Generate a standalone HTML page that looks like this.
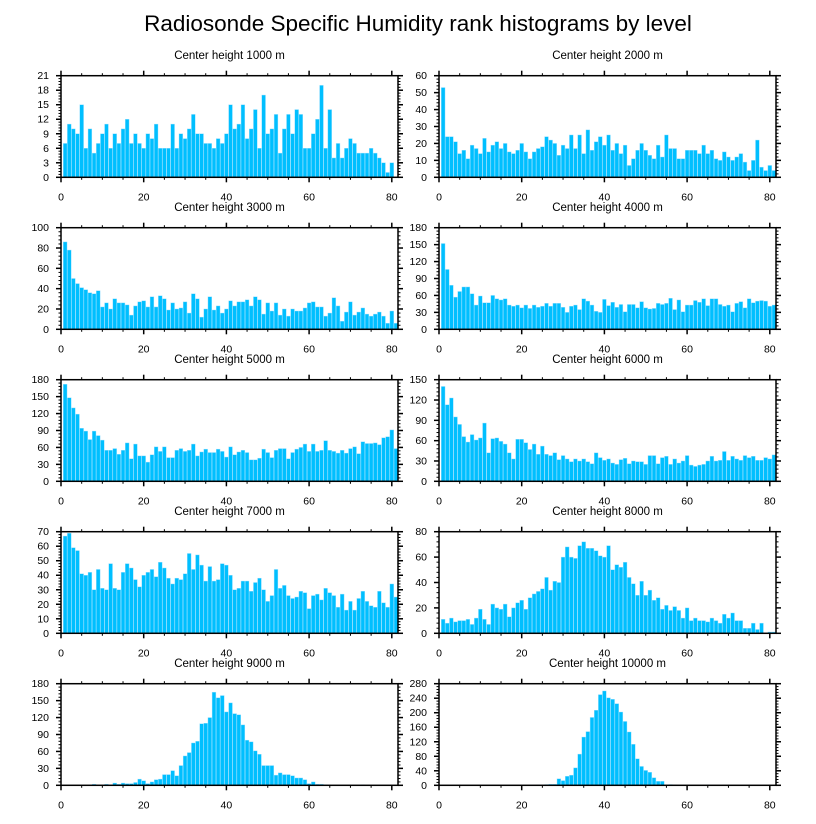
<!DOCTYPE html>
<html><head><meta charset="utf-8"><style>
html,body{margin:0;padding:0;background:#fff;}
svg{display:block;font-family:"Liberation Sans",sans-serif;}
</style></head><body>
<svg id="chart" width="816" height="824" viewBox="0 0 816 824">
<text x="418" y="31" text-anchor="middle" font-size="22.5">Radiosonde Specific Humidity rank histograms by level</text>
</svg>
<script>
const levels = ["1000","2000","3000","4000","5000","6000","7000","8000","9000","10000"];
const yMaxes = [21,60,100,180,180,150,70,80,180,280];
const ySteps = [3,10,20,30,30,30,10,20,30,40];
const xTicks = [0,20,40,60,80];
const h1000 = [7,11,10,9,15,6,10,5,7,9,11,6,9,7,10,12,7,9,7,6,9,8,11,6,6,6,11,6,9,8,10,13,9,9,7,7,6,8,7,9,15,10,11,15,8,10,14,6,17,9,10,13,5,10,13,9,14,13,6,6,9,12,19,6,14,4,7,4,6,8,7,5,5,5,6,5,4,3,1,3,0];
const h2000 = [53,24,24,21,14,16,11,19,17,14,23,15,19,21,17,20,15,14,16,20,15,11,15,17,18,24,22,20,13,19,17,25,17,25,14,28,16,21,24,19,25,16,20,14,19,7,11,16,20,16,13,11,19,12,25,17,17,11,11,16,16,16,14,19,14,16,11,10,15,12,10,12,14,9,4,10,22,6,4,7,4];
const h3000 = [86,78,50,45,41,39,36,35,38,22,26,20,30,26,26,24,14,23,27,28,22,32,22,33,30,19,26,20,21,27,16,35,30,12,20,32,19,23,16,20,28,23,27,27,29,23,32,29,15,26,18,26,14,20,13,20,18,18,21,26,27,22,22,13,16,31,23,8,17,27,14,17,21,15,13,15,17,13,6,18,6];
const h4000 = [152,106,78,57,67,75,75,63,43,59,47,47,60,54,52,54,43,41,43,38,43,37,43,39,41,46,41,46,46,39,30,41,43,35,54,50,43,32,30,53,42,48,39,44,31,44,44,38,49,38,36,37,46,44,46,55,35,52,31,43,43,51,48,54,42,54,54,44,41,43,31,46,49,38,54,47,50,51,50,41,43];
const h5000 = [172,148,130,119,94,89,74,89,81,73,55,55,58,48,55,68,40,66,45,45,34,47,61,53,61,42,42,55,58,53,55,66,45,52,57,51,51,57,53,43,61,47,52,55,51,38,38,41,57,51,42,55,58,58,40,51,57,60,66,53,66,53,55,72,55,53,50,55,50,58,61,49,70,67,67,68,65,77,79,91,58];
const h6000 = [140,113,123,95,84,66,58,69,61,64,86,42,63,64,59,55,42,33,62,62,57,47,55,40,52,40,38,42,32,38,33,29,33,30,33,29,26,42,35,31,33,27,25,32,34,26,30,29,29,25,38,38,26,35,37,25,33,27,30,38,24,22,24,25,30,37,30,31,44,31,37,33,31,38,35,37,31,31,35,33,39];
const h7000 = [67,69,59,57,41,40,42,30,44,31,30,48,31,30,42,48,45,37,32,40,42,44,39,49,45,38,34,38,37,41,55,44,54,47,36,46,36,37,48,47,40,30,31,36,36,29,35,38,30,22,26,44,31,33,26,24,25,29,28,17,26,27,23,31,28,26,18,27,16,22,16,24,29,22,19,18,29,21,18,34,25];
const h8000 = [11,8,12,9,10,10,11,7,12,19,11,7,23,20,19,23,13,20,24,26,19,28,31,33,35,44,34,41,40,60,68,60,59,69,72,67,67,65,61,60,69,50,54,52,56,44,39,30,41,30,34,26,28,19,22,18,21,18,12,20,10,12,10,10,9,12,10,8,15,12,16,10,10,4,4,8,3,8,0,1,1];
const h9000 = [0,0,0,0,0,0,0,2,0,0,2,0,4,2,4,3,3,5,11,8,3,6,10,11,19,19,26,17,35,52,58,75,78,109,110,120,165,155,159,130,146,127,125,107,80,77,61,55,35,35,35,18,22,19,19,17,13,13,10,3,6,2,2,1,0,0,0,0,0,0,0,0,1,0,0,0,0,0,0,0,0];
const h10000 = [0,0,0,0,0,0,0,0,0,0,0,0,0,0,0,0,0,0,0,0,0,0,0,1,0,2,3,3,18,13,25,28,48,86,133,148,187,207,250,260,241,237,225,202,176,147,113,73,52,41,36,21,11,11,0,2,1,0,0,0,0,0,0,0,1,0,0,0,0,0,0,0,0,0,0,0,0,0,0,0,0];
const allSeries = [h1000,h2000,h3000,h4000,h5000,h6000,h7000,h8000,h9000,h10000];

const NS = "http://www.w3.org/2000/svg";
const svg = document.getElementById("chart");
const XMAX = 81.5, PW = 337, PH = 101.6;
function mk(tag, attrs, parent){ const e=document.createElementNS(NS,tag); for(const k in attrs) e.setAttribute(k,attrs[k]); (parent||svg).appendChild(e); return e; }

allSeries.forEach((data, p) => {
  const col = p % 2, row = Math.floor(p / 2);
  const x0 = col === 0 ? 61 : 439;
  const y0 = 75.7 + 152 * row;
  const ymax = yMaxes[p], step = ySteps[p];
  const xs = v => x0 + v / XMAX * PW;
  const ys = v => y0 + PH * (1 - v / ymax);
  const g = mk("g", {});
  
  
  const st = mk("text", {x: x0 + PW/2, y: y0 - 16.5, "text-anchor": "middle", "font-size": "11.5"}, g);
  
  
  st.textContent = "Center height " + levels[p] + " m";
  const u = PW / XMAX;
  data.forEach((v, i) => {
    if (v <= 0) return;
    const b = mk("rect", {x: xs(i + 1) - 0.46*u, y: ys(v), width: 0.92*u, height: ys(0) - ys(v), fill: "#00bfff", stroke: "#9fe0ff", "stroke-width": "0.4"}, g);
    
    
  });
  const fr = mk("rect", {x: x0, y: y0, width: PW, height: PH, fill: "none", stroke: "#000", "stroke-width": "1.5"}, g);
  
  
  for (let t = 0; t <= 80; t += 5) {
    const major = t % 20 === 0, L = major ? 5 : 2.5, x = xs(t);
    mk("line", {x1: x, x2: x, y1: y0 + PH, y2: y0 + PH + L, stroke: "#000", "stroke-width": major ? 1.5 : 1}, g);
    mk("line", {x1: x, x2: x, y1: y0, y2: y0 - L, stroke: "#000", "stroke-width": major ? 1.5 : 1}, g);
  }
  xTicks.forEach(t => {
    const lt = mk("text", {x: xs(t), y: y0 + PH + 23, "text-anchor": "middle", "font-size": "10.5"}, g);
    
    
    lt.textContent = t;
  });
  const minor = step / 5;
  for (let k = 0; k * minor <= ymax + 1e-9; k++) {
    const v = k * minor, major = k % 5 === 0, L = major ? 5 : 2.5, y = ys(v);
    mk("line", {x1: x0, x2: x0 - L, y1: y, y2: y, stroke: "#000", "stroke-width": major ? 1.5 : 1}, g);
    mk("line", {x1: x0 + PW, x2: x0 + PW + L, y1: y, y2: y, stroke: "#000", "stroke-width": major ? 1.5 : 1}, g);
  }
  for (let v = 0; v <= ymax + 1e-9; v += step) {
    const lt = mk("text", {x: x0 - 12, y: ys(v) + 3.5, "text-anchor": "end", "font-size": "10.5"}, g);
    
    
    lt.textContent = v;
  }
});
</script>
</body></html>
